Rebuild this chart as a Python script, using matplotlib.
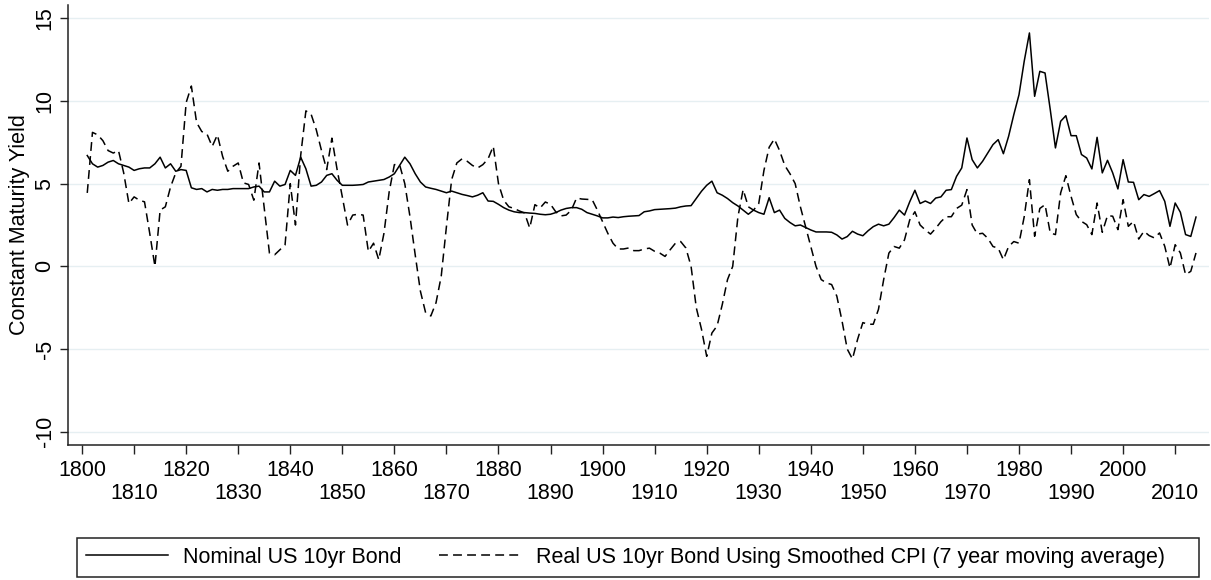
import numpy as np
import matplotlib
matplotlib.use("Agg")
import matplotlib.pyplot as plt
from matplotlib.patches import Rectangle

plt.rcParams['font.family'] = ['Liberation Sans', 'DejaVu Sans']

years = list(range(1801, 2015))

# Nominal US 10yr bond yield
nominal = [
    6.7, 6.2, 6.0, 6.1, 6.3, 6.4, 6.2, 6.1, 6.0, 5.8,          # 1801-1810
    5.9, 5.95, 5.95, 6.2, 6.6, 5.95, 6.2, 5.75, 5.85, 5.8,      # 1811-1820
    4.75, 4.65, 4.7, 4.5, 4.65, 4.6, 4.65, 4.65, 4.7, 4.7,      # 1821-1830
    4.7, 4.7, 4.8, 4.85, 4.5, 4.5, 5.15, 4.85, 4.95, 5.8,       # 1831-1840
    5.5, 6.6, 5.9, 4.85, 4.9, 5.1, 5.5, 5.6, 5.2, 4.9,          # 1841-1850
    4.9, 4.9, 4.92, 4.95, 5.1, 5.15, 5.2, 5.25, 5.4, 5.6,       # 1851-1860
    6.1, 6.6, 6.2, 5.6, 5.1, 4.8, 4.72, 4.65, 4.55, 4.45,       # 1861-1870
    4.55, 4.45, 4.35, 4.28, 4.2, 4.3, 4.45, 3.95, 3.93, 3.75,   # 1871-1880
    3.55, 3.4, 3.3, 3.25, 3.25, 3.22, 3.2, 3.15, 3.12, 3.15,    # 1881-1890
    3.25, 3.4, 3.5, 3.55, 3.55, 3.45, 3.25, 3.15, 3.05, 2.93,   # 1891-1900
    2.93, 2.98, 2.95, 3.0, 3.03, 3.05, 3.07, 3.3, 3.35, 3.43,   # 1901-1910
    3.45, 3.47, 3.49, 3.52, 3.6, 3.65, 3.67, 4.1, 4.54, 4.9,    # 1911-1920
    5.15, 4.45, 4.3, 4.1, 3.85, 3.65, 3.4, 3.15, 3.4, 3.25,     # 1921-1930
    3.15, 4.15, 3.25, 3.4, 2.9, 2.65, 2.45, 2.5, 2.35, 2.2,     # 1931-1940
    2.08, 2.08, 2.08, 2.06, 1.9, 1.65, 1.8, 2.12, 1.95, 1.85,   # 1941-1950
    2.15, 2.4, 2.55, 2.45, 2.55, 2.95, 3.4, 3.1, 3.9, 4.6,      # 1951-1960
    3.8, 3.95, 3.8, 4.13, 4.2, 4.6, 4.64, 5.44, 5.95, 7.76,     # 1961-1970
    6.45, 5.95, 6.35, 6.86, 7.36, 7.66, 6.81, 7.86, 9.17, 10.38,  # 1971-1980
    12.4, 14.11, 10.28, 11.79, 11.69, 9.48, 7.16, 8.77, 9.11, 7.9,  # 1981-1990
    7.9, 6.76, 6.55, 5.89, 7.8, 5.65, 6.41, 5.65, 4.68, 6.45,   # 1991-2000
    5.1, 5.08, 4.03, 4.34, 4.23, 4.4, 4.58, 3.93, 2.42, 3.83,   # 2001-2010
    3.27, 1.92, 1.81, 2.98,                                     # 2011-2014
]

# Real US 10yr bond yield using smoothed CPI
real = [
    4.44, 8.1, 7.95, 7.6, 7.0, 6.85, 7.0, 5.65, 3.8, 4.2,       # 1801-1810
    4.0, 3.9, 2.0, 0.0, 3.4, 3.6, 4.8, 5.65, 6.05, 9.9,         # 1811-1820
    10.9, 8.7, 8.15, 8.0, 7.25, 7.95, 6.65, 5.75, 6.05, 6.25,   # 1821-1830
    5.05, 4.95, 4.0, 6.25, 3.5, 0.8, 0.7, 1.0, 1.3, 5.0,        # 1831-1840
    2.5, 6.7, 9.4, 9.2, 8.25, 7.0, 5.85, 7.75, 5.85, 4.2,       # 1841-1850
    2.5, 3.1, 3.15, 3.1, 0.9, 1.4, 0.4, 2.0, 4.5, 6.15,         # 1851-1860
    6.15, 5.0, 3.0, 0.7, -1.5, -2.8, -3.0, -2.2, -0.6, 2.4,     # 1861-1870
    5.24, 6.25, 6.5, 6.35, 6.1, 5.95, 6.15, 6.5, 7.26, 5.0,     # 1871-1880
    4.0, 3.6, 3.5, 3.35, 3.23, 2.32, 3.73, 3.53, 3.89, 3.75,    # 1881-1890
    3.3, 3.05, 3.1, 3.4, 4.13, 4.07, 4.05, 4.03, 3.4, 2.7,      # 1891-1900
    2.0, 1.4, 1.05, 1.05, 1.11, 0.95, 0.95, 1.05, 1.1, 0.91,    # 1901-1910
    0.8, 0.6, 1.01, 1.4, 1.5, 1.11, 0.0, -2.5, -3.8, -5.44,     # 1911-1920
    -4.03, -3.6, -2.3, -0.8, 0.0, 3.0, 4.64, 3.6, 3.4, 3.8,     # 1921-1930
    5.8, 7.2, 7.7, 7.0, 6.1, 5.6, 5.0, 3.6, 2.4, 1.2,           # 1931-1940
    0.0, -0.8, -1.0, -1.1, -1.8, -3.3, -5.0, -5.6, -4.4, -3.4,  # 1941-1950
    -3.5, -3.5, -2.6, -0.8, 0.8, 1.2, 1.1, 1.6, 2.8, 3.3,       # 1951-1960
    2.5, 2.2, 1.95, 2.3, 2.7, 3.0, 3.0, 3.5, 3.7, 4.64,         # 1961-1970
    2.5, 1.95, 2.0, 1.7, 1.2, 1.1, 0.4, 1.2, 1.5, 1.4,          # 1971-1980
    3.0, 5.24, 1.82, 3.5, 3.73, 2.02, 1.92, 4.44, 5.48, 4.23,   # 1981-1990
    3.13, 2.72, 2.52, 1.92, 3.83, 2.06, 3.07, 3.03, 2.22, 4.03,  # 1991-2000
    2.42, 2.72, 1.65, 2.12, 1.86, 1.72, 2.02, 1.21, -0.1, 1.31,  # 2001-2010
    0.81, -0.5, -0.3, 0.81,                                     # 2011-2014
]

major_years = list(range(1800, 2011, 20))
minor_years = list(range(1810, 2011, 20))
y_ticks = [-10, -5, 0, 5, 10, 15]

fig = plt.figure(figsize=(12.11, 5.8), dpi=100)
ax = fig.add_axes([68 / 1211, 1 - 445 / 580, (1209 - 68) / 1211, (445 - 5) / 580])

ax.plot(years, nominal, color='black', linewidth=1.1, label='Nominal US 10yr Bond')
ax.plot(years, real, color='black', linewidth=1.1, dashes=(5.8, 3.4),
        label='Real US 10yr Bond Using Smoothed CPI (7 year moving average)')

ax.set_xlim(1797.3, 2016.5)
ax.set_ylim(-10.8, 15.8)

# staggered year labels: even decades on first row, odd decades below
ax.set_xticks(major_years)
ax.set_xticks(minor_years, minor=True)
ax.set_xticklabels([str(y) for y in major_years])
ax.set_xticklabels([str(y) for y in minor_years], minor=True)
ax.tick_params(axis='x', which='both', length=6.5, width=1.0, labelsize=15.5, color='#222222')
ax.tick_params(axis='x', which='major', pad=4)
ax.tick_params(axis='x', which='minor', pad=21)

ax.set_yticks(y_ticks)
ax.set_yticklabels([str(v) for v in y_ticks], rotation=90, va='center')
ax.tick_params(axis='y', length=6, width=1.0, labelsize=15.5, pad=3, color='#222222')

ax.set_ylabel('Constant Maturity Yield', fontsize=15.5, labelpad=3)

ax.grid(axis='y', color='#e6eff2', linewidth=1.0)
ax.set_axisbelow(True)

for side in ['top', 'right']:
    ax.spines[side].set_visible(False)
for side in ['left', 'bottom']:
    ax.spines[side].set_linewidth(1.1)
    ax.spines[side].set_color('#222222')

# legend box below the plot
frame = Rectangle((77 / 1211, 1 - 577 / 580), (1199 - 77) / 1211, 39 / 580,
                  transform=fig.transFigure, fill=False, edgecolor='#222222', linewidth=1.1)
fig.patches.append(frame)
leg = fig.legend(loc='center left', bbox_to_anchor=(86 / 1211, 1 - 557.5 / 580), ncol=2,
                 fontsize=15.5, handlelength=3.8, handletextpad=0.7, columnspacing=1.75,
                 borderpad=0, borderaxespad=0, frameon=False)

fig.savefig('out.png', dpi=100)
